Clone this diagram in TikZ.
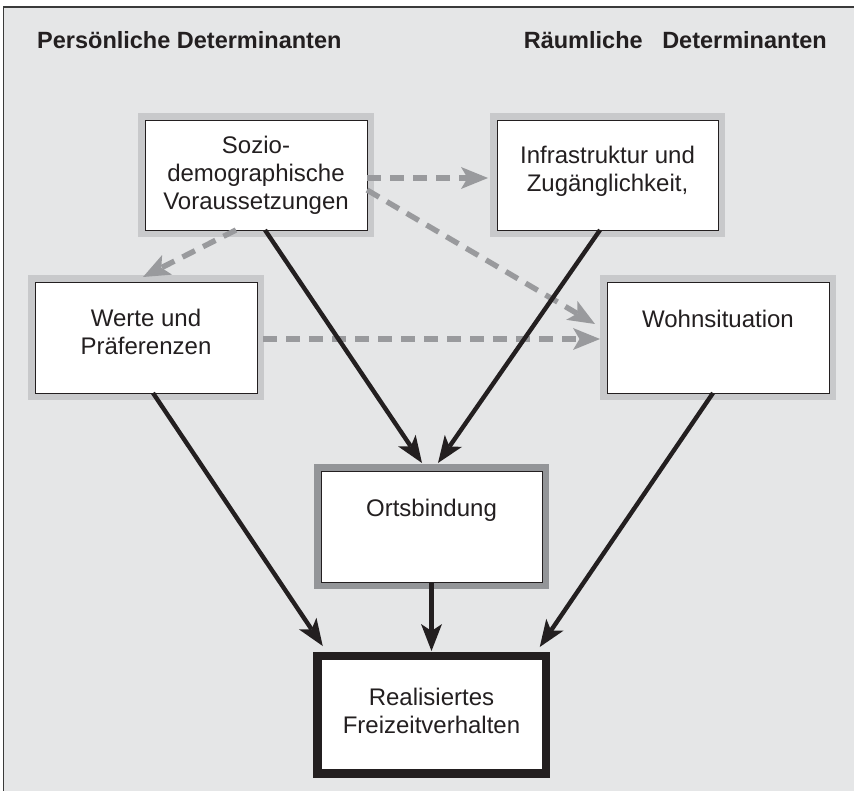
\documentclass[tikz,border=0pt]{standalone}
\usepackage{fontspec}
\setmainfont{Liberation Sans}
\usetikzlibrary{arrows.meta}
\definecolor{bgc}{HTML}{E5E6E7}
\definecolor{framel}{HTML}{C8C9CB}
\definecolor{framed}{HTML}{939598}
\definecolor{dashc}{HTML}{999A9D}
\definecolor{ink}{HTML}{231F20}
\definecolor{bord}{HTML}{3A3A3A}
\tikzset{
  lightbox/.style={rectangle, inner sep=0pt, outer sep=0pt, fill=white, draw=ink, line width=0.9pt,
    preaction={draw=framel, line width=14pt}},
  darkbox/.style={rectangle, inner sep=0pt, outer sep=0pt, fill=white, draw=ink, line width=0.9pt,
    preaction={draw=framed, line width=14pt}},
  finalbox/.style={rectangle, inner sep=0pt, outer sep=0pt, fill=white, draw=ink, line width=8.5pt},
  txt/.style={inner sep=0pt, font=\fontsize{24}{28}\selectfont, text=ink, anchor=base},
  hdr/.style={inner sep=0pt, font=\bfseries\fontsize{23.5}{27}\selectfont, text=ink},
  blackarr/.style={draw=ink, line width=4.4pt,
    -{Stealth[length=27pt, width=21pt, inset=7pt, line width=0pt]}},
  darr/.style={draw=dashc, line width=5.4pt, dash pattern=on 14pt off 9pt,
    -{Stealth[length=27pt, width=22pt, inset=6.5pt, line width=0pt]}}
}
\begin{document}
\begin{tikzpicture}[x=1pt,y=-1pt]
\useasboundingbox (0,0) rectangle (854,791);
\fill[bgc] (3.5,7) rectangle (854,791);
\draw[bord, line width=1.8pt] (3.5,791) -- (3.5,7) -- (854,7);

\node[hdr, anchor=base west] (hl) at (37,49) {Persönliche Determinanten};
\node[hdr, anchor=base east] (hr) at (827,49) {Räumliche\ \ \ Determinanten};

\node[lightbox, minimum width=222pt, minimum height=110pt] (soz) at (256,175) {};
\node[lightbox, minimum width=221pt, minimum height=110pt] (inf) at (607.5,175) {};
\node[lightbox, minimum width=222pt, minimum height=111pt] (wer) at (146,337.5) {};
\node[lightbox, minimum width=222pt, minimum height=111pt] (woh) at (718,337.5) {};
\node[darkbox, minimum width=221pt, minimum height=111pt] (ort) at (431.5,526.5) {};
\node[finalbox, minimum width=228.5pt, minimum height=117.5pt] (rea) at (431.5,714.75) {};

\draw[darr] ([yshift=-3pt]soz.east) -- ([xshift=-9pt,yshift=-3pt]inf.west);
\draw[darr] ([yshift=-15pt]soz.east) -- ([xshift=-12pt,yshift=13.5pt]woh.west);
\draw[darr] ([xshift=6pt,yshift=-1.5pt]wer.east) -- ([xshift=-7pt,yshift=-1.5pt]woh.west);
\draw[darr] ([xshift=-20pt]soz.south) -- ([xshift=-3pt,yshift=5pt]wer.north);

\draw[blackarr] ([xshift=9pt]soz.south) -- ([xshift=-9.5pt,yshift=8pt]ort.north);
\draw[blackarr] ([xshift=-7.5pt]inf.south) -- ([xshift=6.5pt,yshift=8pt]ort.north);
\draw[blackarr] ([xshift=7pt]wer.south) -- ([xshift=5.5pt,yshift=10pt]rea.north west);
\draw[blackarr] (ort.south) -- ([yshift=5pt]rea.north);
\draw[blackarr] ([xshift=-5pt]woh.south) -- ([xshift=-6pt,yshift=9pt]rea.north east);

\node[txt] (sozt) at (256,154) {\begin{tabular}[t]{@{}c@{}}Sozio-\\demographische\\Voraussetzungen\end{tabular}};
\node[txt] (inft) at (607.5,164) {\begin{tabular}[t]{@{}c@{}}Infrastruktur und\\Zugänglichkeit,\end{tabular}};
\node[txt] (wert) at (146,327) {\begin{tabular}[t]{@{}c@{}}Werte und\\Präferenzen\end{tabular}};
\node[txt] (woht) at (718,328) {Wohnsituation};
\node[txt] (ortt) at (431.5,516) {Ortsbindung};
\node[txt] (reat) at (431.5,705) {\begin{tabular}[t]{@{}c@{}}Realisiertes\\Freizeitverhalten\end{tabular}};
\end{tikzpicture}
\end{document}
